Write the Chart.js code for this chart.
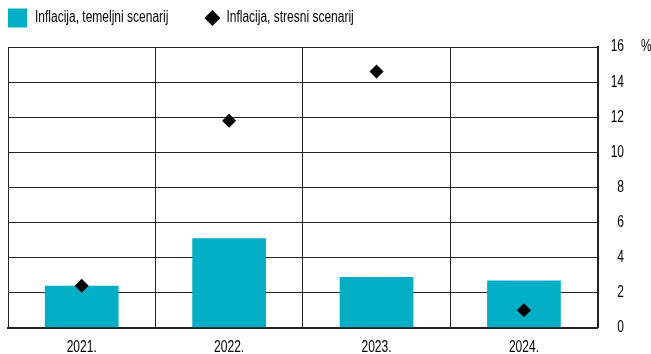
<!DOCTYPE html>
<html>
<head>
<meta charset="utf-8">
<script src="https://cdn.jsdelivr.net/npm/chart.js@4/dist/chart.umd.min.js"></script>
<style>
  html, body { margin: 0; padding: 0; background: #fff; }
  #wrap { position: relative; width: 651px; height: 354px; }
</style>
</head>
<body>
<div id="wrap"><canvas id="c" width="651" height="354"></canvas></div>
<script>
const categories = ['2021.', '2022.', '2023.', '2024.'];
const baselineInflation = [2.4, 5.1, 2.9, 2.7];
const stressInflation = [2.4, 11.8, 14.6, 1.0];
const yTicks = [0, 2, 4, 6, 8, 10, 12, 14, 16];
const seriesNames = ['Inflacija, temeljni scenarij', 'Inflacija, stresni scenarij'];
const unitLabel = '%';

const FONT = "'Liberation Sans', Arial, sans-serif";
const FONT_SIZE = 16;
const TEXT_SCALE_X = 0.75; // condensed look
const BAR_COLOR = '#00AFC6';
const TEXT_COLOR = '#000';

// Condensed text rendering: scale glyphs horizontally around the anchor point
const canvas = document.getElementById('c');
const ctx2d = canvas.getContext('2d');
const origFillText = ctx2d.fillText.bind(ctx2d);
const origMeasure = ctx2d.measureText.bind(ctx2d);
ctx2d.fillText = function (text, x, y, maxWidth) {
  this.save();
  this.translate(x, y);
  this.scale(TEXT_SCALE_X, 1);
  if (maxWidth === undefined) origFillText(text, 0, 0);
  else origFillText(text, 0, 0, maxWidth / TEXT_SCALE_X);
  this.restore();
};
ctx2d.measureText = function (text) {
  const m = origMeasure(text);
  return {
    width: m.width * TEXT_SCALE_X,
    actualBoundingBoxAscent: m.actualBoundingBoxAscent,
    actualBoundingBoxDescent: m.actualBoundingBoxDescent,
    actualBoundingBoxLeft: m.actualBoundingBoxLeft * TEXT_SCALE_X,
    actualBoundingBoxRight: m.actualBoundingBoxRight * TEXT_SCALE_X,
    fontBoundingBoxAscent: m.fontBoundingBoxAscent,
    fontBoundingBoxDescent: m.fontBoundingBoxDescent
  };
};

const extrasPlugin = {
  id: 'extras',
  afterDraw(chart) {
    const ctx = chart.ctx;
    const ca = chart.chartArea;
    const ys = chart.scales.y;
    ctx.save();
    ctx.font = FONT_SIZE + 'px ' + FONT;
    ctx.fillStyle = TEXT_COLOR;
    ctx.textBaseline = 'middle';
    ctx.textAlign = 'left';
    // unit label
    ctx.fillText(unitLabel, ys.right + 17, ys.getPixelForValue(16));
    // legend
    const ly = 18;
    const x0 = ca.left;
    ctx.fillStyle = BAR_COLOR;
    ctx.fillRect(x0, ly - 9.5, 19, 19);
    ctx.fillStyle = TEXT_COLOR;
    ctx.fillText(seriesNames[0], x0 + 27, ly);
    const w1 = ctx.measureText(seriesNames[0]).width;
    const dx = x0 + 27 + w1 + 44;
    ctx.fillStyle = '#000';
    ctx.beginPath();
    ctx.moveTo(dx - 8, ly);
    ctx.lineTo(dx, ly - 8);
    ctx.lineTo(dx + 8, ly);
    ctx.lineTo(dx, ly + 8);
    ctx.closePath();
    ctx.fill();
    ctx.fillStyle = TEXT_COLOR;
    ctx.fillText(seriesNames[1], dx + 14, ly);
    ctx.restore();
  }
};

new Chart(canvas, {
  type: 'bar',
  data: {
    labels: categories,
    datasets: [
      {
        label: seriesNames[0],
        data: baselineInflation,
        backgroundColor: BAR_COLOR,
        borderWidth: 0,
        barPercentage: 0.5,
        categoryPercentage: 1.0,
        order: 2
      },
      {
        type: 'line',
        label: seriesNames[1],
        data: stressInflation,
        showLine: false,
        pointStyle: 'rectRot',
        pointRadius: 7,
        pointHoverRadius: 7,
        pointBackgroundColor: '#000',
        pointBorderColor: '#000',
        pointBorderWidth: 0,
        order: 1
      }
    ]
  },
  options: {
    responsive: false,
    animation: false,
    devicePixelRatio: 1,
    layout: { padding: { left: 8, right: 27, top: 47, bottom: -13 } },
    plugins: {
      legend: { display: false },
      tooltip: { enabled: false }
    },
    scales: {
      x: {
        offset: true,
        grid: { display: true, offset: true, drawTicks: false, color: '#222', lineWidth: 1 },
        border: { display: true, color: '#222', width: 2 },
        ticks: { font: { family: FONT, size: FONT_SIZE }, color: TEXT_COLOR, padding: 10 }
      },
      y: {
        position: 'right',
        min: 0,
        max: 16,
        afterBuildTicks(scale) { scale.ticks = yTicks.map(v => ({ value: v })); },
        grid: { display: true, drawTicks: false, color: '#222', lineWidth: 1 },
        border: { display: true, color: '#222', width: 2 },
        ticks: { font: { family: FONT, size: FONT_SIZE }, color: TEXT_COLOR, padding: 6.5, crossAlign: 'far' }
      }
    }
  },
  plugins: [extrasPlugin]
});
</script>
</body>
</html>
